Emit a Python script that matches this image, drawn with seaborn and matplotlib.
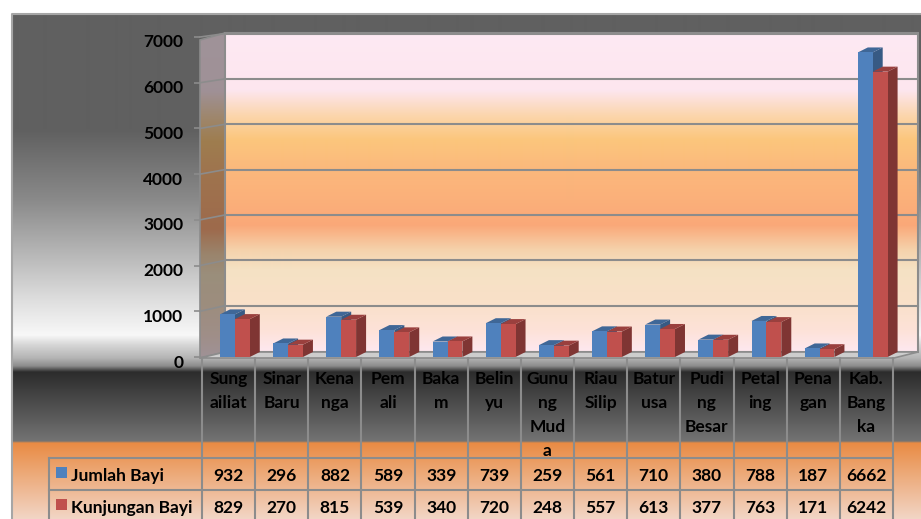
import numpy as np
import pandas as pd
import matplotlib
matplotlib.use("Agg")
import matplotlib.pyplot as plt
import seaborn as sns
from matplotlib.colors import to_rgb
from matplotlib.patches import Polygon
from matplotlib.transforms import ScaledTranslation

# data
wilayah = ["Sungailiat", "Sinar Baru", "Kenanga", "Pemali", "Bakam", "Belinyu",
           "Gunung Muda", "Riau Silip", "Baturusa", "Puding Besar", "Petaling",
           "Penagan", "Kab. Bangka"]
label_tabel = ["Sung\nailiat", "Sinar\nBaru", "Kena\nnga", "Pem\nali", "Baka\nm",
               "Belin\nyu", "Gunu\nng\nMud\na", "Riau\nSilip", "Batur\nusa",
               "Pudi\nng\nBesar", "Petal\ning", "Pena\ngan", "Kab.\nBang\nka"]
jumlah_bayi = [932, 296, 882, 589, 339, 739, 259, 561, 710, 380, 788, 187, 6662]
kunjungan_bayi = [829, 270, 815, 539, 340, 720, 248, 557, 613, 377, 763, 171, 6242]
seri = ["Jumlah Bayi", "Kunjungan Bayi"]
warna = ["#4f81bd", "#c0504d"]
yticks = [0, 1000, 2000, 3000, 4000, 5000, 6000, 7000]

df = pd.DataFrame({
    "Wilayah": wilayah * 2,
    "Nilai": jumlah_bayi + kunjungan_bayi,
    "Seri": [seri[0]] * len(wilayah) + [seri[1]] * len(wilayah),
})

plt.rcParams['font.family'] = ['Lato', 'DejaVu Sans']

W, H = 921, 519
fig = plt.figure(figsize=(W / 100, H / 100), dpi=100)


def gradien(stops, ys):
    pos = [s[0] for s in stops]
    cols = np.array([to_rgb(s[1]) for s in stops])
    return np.stack([np.interp(ys, pos, cols[:, k]) for k in range(3)], axis=-1)


# background axes in pixel coordinates
bg = fig.add_axes([0, 0, 1, 1], zorder=0)
bg.set_xlim(0, W)
bg.set_ylim(H, 0)
bg.axis('off')

stop_luar = [(14, "#606060"), (130, "#606060"), (200, "#8a8a8a"), (260, "#bcbcbc"),
             (300, "#dedede"), (335, "#f8f8f8"), (345, "#d6d6d6"), (358, "#b4b4b4"),
             (366, "#8c8c8c"), (372, "#2c2c2c"), (441, "#737373"), (443, "#e98b44"),
             (519, "#f2d6c6")]
ys = np.arange(14, H) + 0.5
bg.imshow(gradien(stop_luar, ys)[:, None, :], extent=[12, W, H, 14],
          aspect='auto', interpolation='bilinear', zorder=0)
bg.plot([12, 12, W], [H, 14, 14], color="#a6a6a6", lw=1.5, zorder=1)

stop_dinding = [(33, "#fde9f3"), (90, "#fde6ef"), (115, "#fbd6ae"), (140, "#fbc67c"),
                (170, "#fbb87c"), (200, "#fbb07a"), (225, "#faa878"), (250, "#f5d2ac"),
                (270, "#f5e2c4"), (300, "#f9e0c8"), (330, "#fde2d8"), (352, "#fde8f0")]
ys = np.arange(33, 352) + 0.5
dinding = gradien(stop_dinding, ys)[:, None, :]
bg.imshow(dinding, extent=[225, 918, 352, 33], aspect='auto',
          interpolation='bilinear', zorder=1)
bg.add_patch(plt.Rectangle((225, 33), 693, 319, fill=False, ec="#8c8c8c", lw=1.5, zorder=2))

# left wall
sisi = Polygon([(200, 40), (225, 33), (225, 352), (200, 358)], closed=True,
               fc="none", ec="#8c8c8c", lw=1.2, zorder=2)
bg.add_patch(sisi)
im = bg.imshow(dinding * 0.63, extent=[200, 225, 358, 33], aspect='auto',
               interpolation='bilinear', zorder=1)
im.set_clip_path(sisi)

# floor
bg.add_patch(Polygon([(200, 358), (894, 358), (918, 352), (225, 352)], closed=True,
                     fc="#cdcdcd", ec="#8c8c8c", lw=1.2, zorder=2))

# bar axes
ax = fig.add_axes([200 / W, (H - 357) / H, 693 / W, 320 / H], zorder=1)
ax.patch.set_alpha(0)
sns.barplot(data=df, x="Wilayah", y="Nilai", hue="Seri", order=wilayah,
            hue_order=seri, palette=warna, width=0.56, gap=0, saturation=1,
            errorbar=None, legend=False, ax=ax)
kol = 53.15
ax.set_xlim((200 - 234.9) / kol, (893 - 234.9) / kol)
ax.set_ylim(0, 7000)
ax.set_yticks(yticks)
ax.set_yticklabels([str(t) for t in yticks], fontsize=12.5, fontweight='bold')
ax.set_xticks([])
ax.set_xlabel("")
ax.set_ylabel("")
for s in ax.spines.values():
    s.set_visible(False)
ax.tick_params(axis='y', length=4, width=1.2, color="#8c8c8c", pad=8)
geser = ScaledTranslation(0, -4 / 100, fig.dpi_scale_trans)
for lab in ax.get_yticklabels():
    lab.set_transform(lab.get_transform() + geser)

# 3D faces for the bars
dx = 10 / kol
dy = 5 / 0.0457
for k, (cont, gelap) in enumerate(zip(ax.containers, [0.7, 0.66])):
    for bar in cont:
        x0, w, h = bar.get_x(), bar.get_width(), bar.get_height()
        fc = np.array(bar.get_facecolor()[:3])
        bar.set_zorder(3 + k)
        ax.add_patch(Polygon([(x0 + w, 0), (x0 + w + dx, dy), (x0 + w + dx, h + dy), (x0 + w, h)],
                             closed=True, fc=fc * gelap, ec="none", zorder=2.9 + k, clip_on=False))
        ax.add_patch(Polygon([(x0, h), (x0 + w, h), (x0 + w + dx, h + dy), (x0 + dx, h + dy)],
                             closed=True, fc=fc * 0.8, ec="none", zorder=2.9 + k, clip_on=False))

# gridlines on back and left wall
fig.canvas.draw()
for v in yticks[1:]:
    yf = H - ax.transData.transform((0, v))[1]
    yb = yf - 6 + (357 - yf) * 0.008
    bg.plot([225, 918], [yb, yb], color="#8c8c8c", lw=1.5, zorder=1.5)
    bg.plot([200, 225], [yf, yb], color="#8c8c8c", lw=1.2, zorder=1.5)

# data table
tb = dict(color="#8c8c8c", lw=1.5, zorder=3)
for i in range(len(wilayah) + 1):
    x = 202 + kol * i
    bg.plot([x, x], [358, H], **tb)
bg.plot([49, 202 + kol * len(wilayah)], [458, 458], **tb)
bg.plot([49, 202 + kol * len(wilayah)], [490, 490], **tb)
bg.plot([49, 49], [458, H], **tb)

for i, lab in enumerate(label_tabel):
    bg.text(202 + kol * (i + 0.5), 371, lab, ha='center', va='top', fontsize=12.5,
            fontweight='bold', linespacing=1.62, zorder=4)

for r, (nama, nilai, c) in enumerate(zip(seri, [jumlah_bayi, kunjungan_bayi], warna)):
    yc = 476 + 32 * r
    bg.add_patch(plt.Rectangle((56, yc - 9), 11, 11, fc=c, ec="none", zorder=4))
    bg.text(71, yc, nama, ha='left', va='center', fontsize=12.5, fontweight='bold', zorder=4)
    for i, v in enumerate(nilai):
        bg.text(202 + kol * (i + 0.5), yc, str(v), ha='center', va='center',
                fontsize=12.5, fontweight='bold', zorder=4)

fig.savefig("out.png", dpi=100)
